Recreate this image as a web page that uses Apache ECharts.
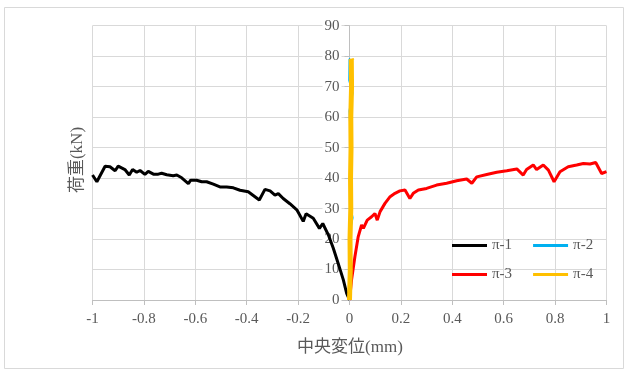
<!DOCTYPE html>
<html><head><meta charset="utf-8">
<script src="https://cdn.jsdelivr.net/npm/echarts@6/dist/echarts.min.js"></script>
<style>html,body{margin:0;padding:0;background:#fff}#c{width:627px;height:371px}</style>
</head><body><div id="c"></div>
<script>
var seriesNames = ['π-1', 'π-2', 'π-3', 'π-4'];
var xTicks = { min: -1, max: 1, interval: 0.2 };
var yTicks = { min: 0, max: 90, interval: 10 };
var xTitle = '中央変位(mm)';
var yTitle = '荷重(kN)';

var pi1 = [[-1,41],[-0.983,38.8],[-0.951,43.9],[-0.932,43.7],[-0.912,42.4],[-0.9,43.9],[-0.874,42.8],[-0.857,41],[-0.844,42.8],[-0.828,41.9],[-0.815,42.5],[-0.796,41.2],[-0.783,42.2],[-0.763,41.3],[-0.744,41.3],[-0.731,41.6],[-0.711,41.1],[-0.686,40.8],[-0.672,41],[-0.653,40.1],[-0.627,38.2],[-0.618,39.3],[-0.595,39.3],[-0.575,38.8],[-0.556,38.8],[-0.53,38],[-0.504,37.1],[-0.478,37.1],[-0.452,36.8],[-0.426,36],[-0.394,35.5],[-0.351,32.8],[-0.329,36.3],[-0.309,35.8],[-0.29,34.4],[-0.277,34.9],[-0.258,33.3],[-0.232,31.6],[-0.205,29.6],[-0.18,25.8],[-0.169,28.3],[-0.141,26.8],[-0.117,23.5],[-0.104,25.1],[-0.082,21.3],[-0.063,17],[-0.044,12],[-0.024,6.6],[-0.011,2.2],[0,0]];
var pi2 = [[0,0],[0.003,12],[0.005,24],[0.012,27],[0.005,30],[0.007,41],[0.013,41.6],[0.008,45],[0.004,55],[0,62],[0.012,68],[-0.001,72],[0,79],[0.003,79.2]];
var pi3 = [[0,0],[0.008,6.6],[0.021,14.2],[0.034,20.8],[0.047,24.6],[0.054,23.5],[0.069,26.2],[0.086,27.3],[0.099,28.4],[0.108,26.2],[0.119,29],[0.138,31.7],[0.158,33.9],[0.177,35],[0.196,35.8],[0.216,36.1],[0.235,33.3],[0.248,35],[0.268,36.1],[0.3,36.6],[0.339,37.7],[0.378,38.3],[0.417,39.1],[0.456,39.7],[0.476,38.3],[0.495,40.4],[0.534,41.2],[0.573,41.9],[0.612,42.4],[0.651,43],[0.676,41],[0.689,42.8],[0.715,44.3],[0.728,42.8],[0.754,44.3],[0.774,42.6],[0.796,38.8],[0.819,42.1],[0.851,43.7],[0.884,44.3],[0.91,44.8],[0.936,44.6],[0.958,45.1],[0.981,41.5],[1.0,42.1]];
var pi4 = [[0,0],[0.003,10],[0.002,20],[0.005,30],[0.004,40],[0.006,50],[0.005,60],[0.008,70],[0.007,79],[0.01,78.5]];

var colors = ['#000000', '#00b0f0', '#ff0000', '#ffc000'];
var widths = [3, 2, 3, 5];
var datas = [pi1, pi2, pi3, pi4];
var FONT = "'Liberation Serif', 'Noto Sans CJK JP', serif";

var chart = echarts.init(document.getElementById('c'), null, {renderer: 'canvas'});
chart.setOption({
  animation: false,
  backgroundColor: '#fff',
  grid: { left: 92.5, right: 20.5, top: 25.7, bottom: 71 },
  xAxis: {
    type: 'value', min: xTicks.min, max: xTicks.max, interval: xTicks.interval,
    axisLine: { show: true, onZero: false, lineStyle: { color: '#bfbfbf', width: 1 } },
    axisTick: { show: true, inside: false, length: 5, lineStyle: { color: '#bfbfbf' } },
    splitLine: { show: true, lineStyle: { color: '#d9d9d9', width: 1 } },
    axisLabel: { color: '#595959', fontSize: 15, fontFamily: FONT, margin: 12,
      formatter: function (v) { return String(Math.round(v * 10) / 10); } }
  },
  yAxis: {
    type: 'value', min: yTicks.min, max: yTicks.max, interval: yTicks.interval,
    position: 'left', offset: -257,
    axisLine: { show: true, onZero: false, lineStyle: { color: '#bfbfbf', width: 1 } },
    axisTick: { show: true, length: 5, lineStyle: { color: '#bfbfbf' } },
    splitLine: { show: true, lineStyle: { color: '#d9d9d9', width: 1 } },
    axisLabel: { color: '#595959', fontSize: 15, fontFamily: FONT, margin: 8,
      backgroundColor: '#fff', padding: [0, 2, 0, 2] }
  },
  legend: [
    { data: [seriesNames[0], seriesNames[1]], left: 452, top: 238, padding: 0,
      icon: 'rect', itemWidth: 35, itemHeight: 3, itemGap: 21,
      textStyle: { color: '#595959', fontSize: 15, fontFamily: FONT } },
    { data: [seriesNames[2], seriesNames[3]], left: 452, top: 267, padding: 0,
      icon: 'rect', itemWidth: 35, itemHeight: 3, itemGap: 21,
      textStyle: { color: '#595959', fontSize: 15, fontFamily: FONT } }
  ],
  graphic: [
    { type: 'rect', shape: { x: 4.5, y: 7.5, width: 619, height: 361 }, style: { fill: 'none', stroke: '#d9d9d9', lineWidth: 1 }, silent: true },
    { type: 'text', x: 350, y: 348, style: { text: xTitle, fill: '#595959', font: "17px " + FONT, textAlign: 'center', textVerticalAlign: 'middle' } },
    { type: 'text', x: 78, y: 160, rotation: Math.PI / 2, style: { text: yTitle, fill: '#595959', font: "17px " + FONT, textAlign: 'center', textVerticalAlign: 'middle' } }
  ],
  series: seriesNames.map(function (n, i) {
    return { name: n, type: 'line', data: datas[i], showSymbol: false, symbol: 'none',
      lineStyle: { color: colors[i], width: widths[i] }, itemStyle: { color: colors[i] },
      z: 2 + i };
  })
});
</script></body></html>
